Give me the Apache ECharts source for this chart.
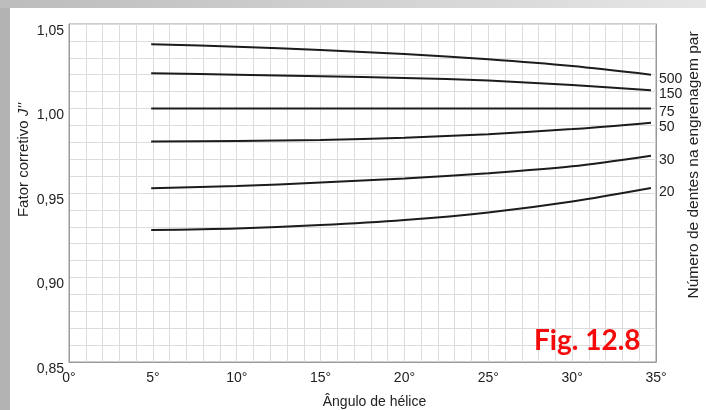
<!DOCTYPE html>
<html>
<head>
<meta charset="utf-8">
<script src="https://cdn.jsdelivr.net/npm/echarts@6/dist/echarts.min.js"></script>
<style>
  html, body { margin: 0; padding: 0; background: #fff; }
  #chart { width: 706px; height: 410px; }
</style>
</head>
<body>
<div id="chart"></div>
<script>
// helix angle (degrees) where the curves were read
const angles = [4.9, 10, 15, 20, 25, 30, 34.7];

// correction factor J'' for each number of teeth on the mating gear
const z500 = [1.0380, 1.0366, 1.0346, 1.0322, 1.0291, 1.0251, 1.0200];
const z150 = [1.0208, 1.0200, 1.0191, 1.0181, 1.0165, 1.0139, 1.0108];
const z75  = [1.0000, 1.0000, 1.0000, 1.0000, 1.0000, 1.0000, 1.0000];
const z50  = [0.9804, 0.9808, 0.9814, 0.9827, 0.9848, 0.9878, 0.9916];
const z30  = [0.9528, 0.9541, 0.9562, 0.9586, 0.9617, 0.9658, 0.9721];
const z20  = [0.9281, 0.9290, 0.9310, 0.9340, 0.9385, 0.9450, 0.9530];

const teeth = ['500', '150', '75', '50', '30', '20'];
const curves = [z500, z150, z75, z50, z30, z20];

const font = 'Liberation Sans, Arial, sans-serif';

const makeSeries = (name, vals) => ({
    name: name,
    type: 'line',
    smooth: 0.3,
    showSymbol: false,
    lineStyle: { color: '#1c1c1c', width: 2 },
    endLabel: {
        show: true,
        formatter: name,
        distance: 5,
        offset: [3, 4],
        color: '#222',
        fontSize: 14,
        fontFamily: font
    },
    data: angles.map((a, i) => [a, vals[i]])
});

let Chart = echarts.init(document.getElementById('chart'));

Chart.setOption({
    animation: false,
    backgroundColor: '#fff',
    grid: {
        left: 69, right: 50, top: 24, bottom: 48,
        outerBoundsMode: 'none',
        show: true, borderColor: '#9a9a9a', borderWidth: 1
    },
    graphic: [
        { type: 'rect', left: 0, top: 0, shape: { width: 10, height: 410 }, style: { fill: '#b3b3b3' } },
        {
            type: 'rect', left: 0, top: 0, shape: { width: 706, height: 8 },
            style: {
                fill: new echarts.graphic.LinearGradient(0, 0, 1, 0, [
                    { offset: 0, color: '#bcbcbc' },
                    { offset: 1, color: '#e6e6e6' }
                ])
            }
        },
        {
            type: 'text', left: 534, top: 327, z: 10,
            style: { text: 'Fig. 12.8', fill: '#f40a0a', font: 'bold 28px Lato, sans-serif' }
        }
    ],
    xAxis: {
        type: 'value',
        min: 0, max: 35, interval: 5,
        name: 'Ângulo de hélice',
        nameLocation: 'middle',
        nameGap: 33,
        nameTextStyle: { color: '#222', fontSize: 14, fontFamily: font, padding: [0, 0, 0, 24] },
        axisLine: { show: true, lineStyle: { color: '#9a9a9a' } },
        axisTick: { show: false },
        axisLabel: { color: '#222', fontSize: 14, fontFamily: font, margin: 9, formatter: v => v + '°' },
        splitLine: { show: true, lineStyle: { color: '#dcdcdc' } },
        minorTick: { show: false, splitNumber: 5 },
        minorSplitLine: { show: true, lineStyle: { color: '#dcdcdc' } }
    },
    yAxis: [
        {
            type: 'value',
            min: 0.85, max: 1.05, interval: 0.05,
            name: "Fator corretivo {i|J''}",
            nameLocation: 'middle',
            nameMoveOverlap: false,
            nameGap: 38,
            nameTextStyle: {
                color: '#222', fontSize: 15, fontFamily: font, padding: [0, 0, 0, 66],
                rich: { i: { fontStyle: 'italic', fontSize: 15, fontFamily: font, color: '#222' } }
            },
            axisLine: { show: true, lineStyle: { color: '#9a9a9a' } },
            axisTick: { show: false },
            axisLabel: {
                color: '#222', fontSize: 14, fontFamily: font, margin: 5,
                verticalAlign: 'top',
                formatter: v => v.toFixed(2).replace('.', ',')
            },
            splitLine: { show: true, lineStyle: { color: '#dcdcdc' } },
            minorTick: { show: false, splitNumber: 5 },
            minorSplitLine: { show: true, lineStyle: { color: '#dcdcdc' } }
        },
        {
            type: 'value',
            position: 'right',
            min: 0.85, max: 1.05, interval: 0.05,
            name: 'Número de dentes na engrenagem par',
            nameLocation: 'middle',
            nameMoveOverlap: false,
            nameRotate: 90,
            nameGap: 30,
            nameTextStyle: { color: '#222', fontSize: 15.5, fontFamily: font, padding: [0, 0, 0, 56] },
            axisLine: { show: true, lineStyle: { color: '#9a9a9a' } },
            axisTick: { show: false },
            axisLabel: { show: false },
            splitLine: { show: false }
        }
    ],
    series: teeth.map((t, i) => makeSeries(t, curves[i]))
});
</script>
</body>
</html>
